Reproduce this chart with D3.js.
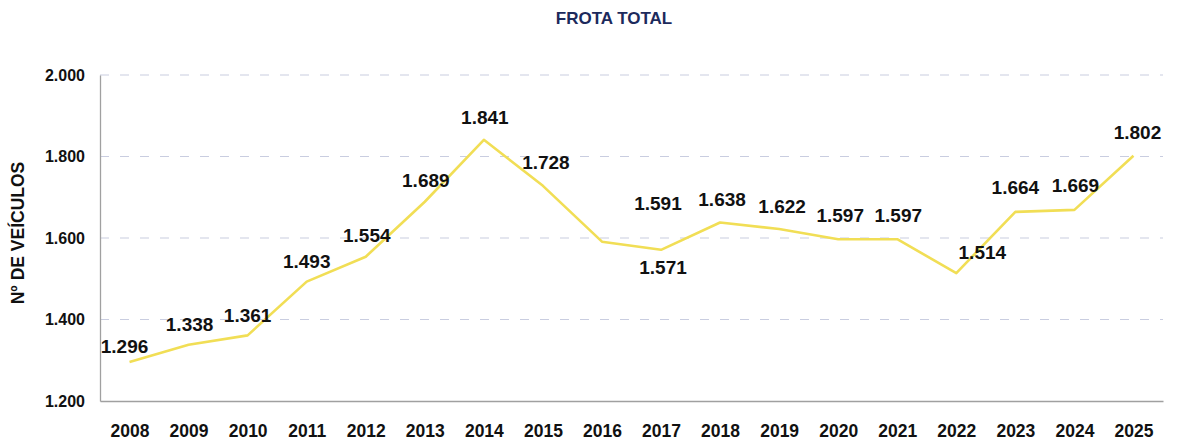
<!DOCTYPE html>
<html lang="pt">
<head>
  <meta charset="UTF-8">
  <title>Frota total</title>
  <script src="https://d3js.org/d3.v7.min.js"></script>
  <style>
    body { margin: 0; background: #fff; }
    text { font-family: "Liberation Sans", Arial, sans-serif; font-weight: bold; }
  </style>
</head>
<body>
  <svg id="chart" width="1179" height="443"></svg>
  <script>
    // data
    const years = ['2008', '2009', '2010', '2011', '2012', '2013', '2014', '2015', '2016',
      '2017', '2018', '2019', '2020', '2021', '2022', '2023', '2024', '2025'];
    const fleet = [1296, 1338, 1361, 1493, 1554, 1689, 1841, 1728, 1591,
      1571, 1638, 1622, 1597, 1597, 1514, 1664, 1669, 1802];
    const yTicks = [1200, 1400, 1600, 1800, 2000];

    // label nudges (px) so labels sit where the original put them
    const labelShift = [[-5, -16], [1, -20], [0, -20], [0, -20], [1, -21], [1, -21], [1, -22], [3, -23], [56, -38],
      [2, 18], [2, -23], [3, -23], [2, -24], [1, -24], [26, -21], [0, -25], [1, -25], [4, -23]];

    const svg = d3.select('svg#chart');
    const margins = { top: 75, right: 16, bottom: 42, left: 100 };
    const chartWidth = 1179 - margins.left - margins.right;
    const chartHeight = 443 - margins.top - margins.bottom;
    const fmt = v => d3.format(',')(v).replace(',', '.');

    svg.append('text')
      .attr('x', 614).attr('y', 24)
      .attr('text-anchor', 'middle')
      .attr('font-size', 17)
      .attr('fill', '#1c2a5c')
      .text('FROTA TOTAL');

    svg.append('text')
      .attr('transform', 'translate(24,233) rotate(-90)')
      .attr('text-anchor', 'middle')
      .attr('font-size', 17.5)
      .attr('fill', '#111')
      .text('Nº DE VEÍCULOS');

    const chartArea = svg.append('g')
      .attr('transform', `translate(${margins.left},${margins.top})`);

    const xScale = d3.scalePoint().domain(years).range([0, chartWidth]).padding(0.5);
    const yScale = d3.scaleLinear().domain([1200, 2000]).range([chartHeight, 0]);

    // dashed gridlines
    yTicks.slice(1).forEach(t => {
      chartArea.append('line')
        .attr('x1', 0).attr('x2', chartWidth)
        .attr('y1', yScale(t)).attr('y2', yScale(t))
        .attr('stroke', '#c9cde0')
        .attr('stroke-width', 1.2)
        .attr('stroke-dasharray', '9,11');
    });

    // y axis
    const yAxis = chartArea.append('g')
      .call(d3.axisLeft(yScale).tickValues(yTicks).tickSize(0).tickPadding(15).tickFormat(fmt));
    yAxis.select('.domain').attr('stroke', '#a0a0a0').attr('stroke-width', 1.3);
    yAxis.selectAll('text').attr('font-size', 16).attr('fill', '#111')
      .style('font-family', '"Liberation Sans", Arial, sans-serif').style('font-weight', 'bold');

    // x axis
    const xAxis = chartArea.append('g')
      .attr('transform', `translate(0,${chartHeight})`)
      .call(d3.axisBottom(xScale).tickSize(0).tickPadding(24));
    xAxis.select('.domain').attr('stroke', '#a0a0a0').attr('stroke-width', 1.3);
    xAxis.selectAll('text').attr('font-size', 17.5).attr('fill', '#111')
      .style('font-family', '"Liberation Sans", Arial, sans-serif').style('font-weight', 'bold');

    // line
    const line = d3.line()
      .x((d, i) => xScale(years[i]))
      .y(d => yScale(d));
    chartArea.append('path')
      .datum(fleet)
      .attr('d', line)
      .attr('fill', 'none')
      .attr('stroke', '#f1de55')
      .attr('stroke-width', 2.6)
      .attr('stroke-linejoin', 'round');

    // value labels
    fleet.forEach((d, i) => {
      chartArea.append('text')
        .attr('x', xScale(years[i]) + labelShift[i][0])
        .attr('y', yScale(d) + labelShift[i][1])
        .attr('dy', '0.35em')
        .attr('text-anchor', 'middle')
        .attr('font-size', 19)
        .attr('fill', '#111')
        .text(fmt(d));
    });
  </script>
</body>
</html>
